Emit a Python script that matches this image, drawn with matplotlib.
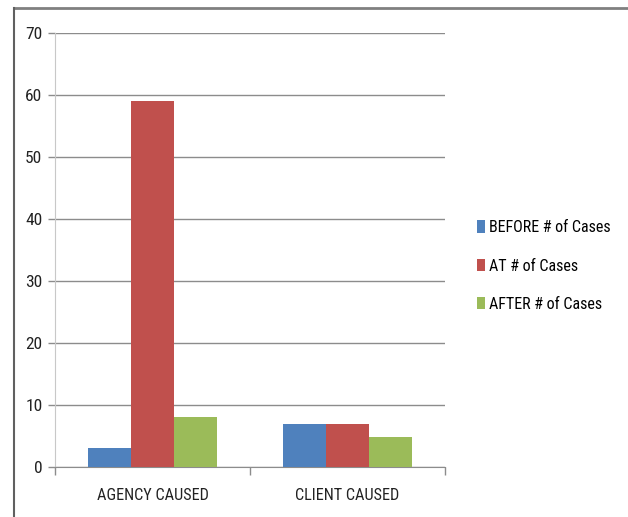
import matplotlib
matplotlib.use("Agg")
import matplotlib.pyplot as plt
import numpy as np
from matplotlib.lines import Line2D

categories = ["AGENCY CAUSED", "CLIENT CAUSED"]
series_names = ["BEFORE # of Cases", "AT # of Cases", "AFTER # of Cases"]
before_vals = [3, 7]
at_vals = [59, 7]
after_vals = [8, 4.8]
colors = ["#4F81BD", "#C0504D", "#9BBB59"]
yticks = [0, 10, 20, 30, 40, 50, 60, 70]

fam = ["Roboto Condensed", "Liberation Sans Narrow", "Roboto", "DejaVu Sans"]
plt.rcParams["font.family"] = fam

W, H = 628, 517
fig = plt.figure(figsize=(W / 100, H / 100), dpi=100)
ax = fig.add_axes([55 / W, 1 - 467 / H, 390 / W, 434 / H])

x = np.arange(len(categories))
bw = 0.22
for i, (vals, name, c) in enumerate(zip([before_vals, at_vals, after_vals], series_names, colors)):
    ax.bar(x + (i - 1) * bw, vals, width=bw, color=c, label=name, zorder=3)

ax.set_xlim(-0.5, 1.5)
ax.set_ylim(0, 70)
ax.set_yticks(yticks)
ax.set_yticklabels([str(t) for t in yticks], fontsize=12.5, color="#222222")
ax.yaxis.grid(True, color="#8c8c8c", linewidth=1.0, zorder=0)
ax.set_axisbelow(True)

ax.set_xticks([-0.5, 0.5, 1.5], minor=False)
ax.set_xticklabels(["", "", ""])
ax.set_xticks(x, minor=True)
ax.set_xticklabels(categories, minor=True, fontsize=11.7, color="#222222")
ax.tick_params(axis="x", which="minor", length=0, pad=15)
ax.tick_params(axis="x", which="major", length=6, color="#8c8c8c", width=1)
ax.tick_params(axis="y", length=5, color="#8c8c8c", width=1, pad=4)

for s in ["top", "right"]:
    ax.spines[s].set_visible(False)
ax.spines["left"].set_color("#c8c8c8")
ax.spines["bottom"].set_color("#8c8c8c")

fig.legend(loc="center left", bbox_to_anchor=(463 / W, 1 - 266 / H), frameon=False,
           handlelength=0.5, handleheight=0.85, handletextpad=0.2, labelspacing=1.45,
           prop={"family": fam, "size": 11.5})

# outer border (top and left)
fig.add_artist(Line2D([14 / W, 1.0], [1 - 8 / H, 1 - 8 / H], transform=fig.transFigure,
                      color="#808080", linewidth=2))
fig.add_artist(Line2D([14 / W, 14 / W], [0, 1 - 8 / H], transform=fig.transFigure,
                      color="#606060", linewidth=1.5))

fig.savefig("out.png", dpi=100)
